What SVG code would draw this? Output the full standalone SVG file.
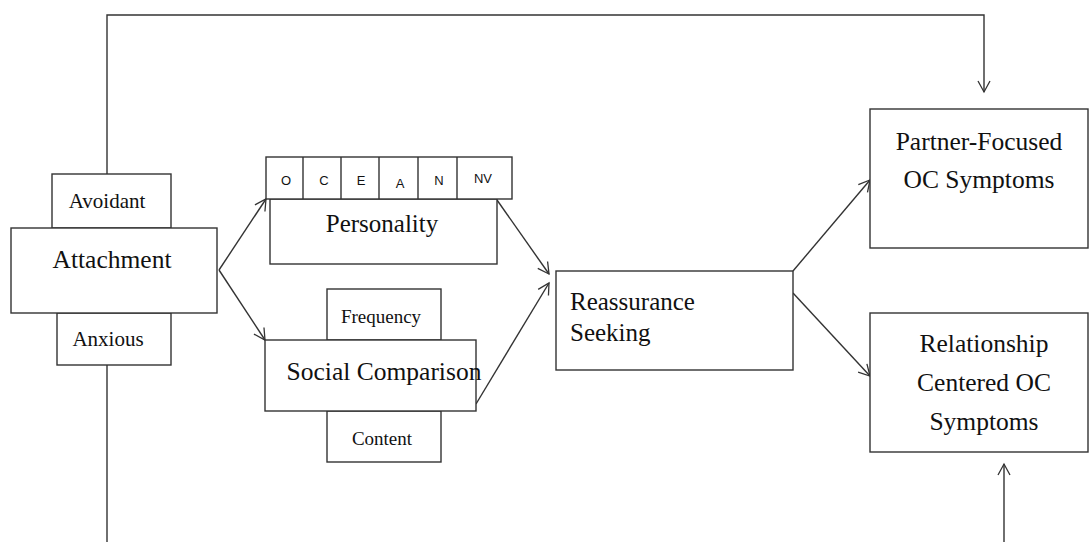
<svg xmlns="http://www.w3.org/2000/svg" width="1091" height="542" viewBox="0 0 1091 542">
<defs>
<marker id="ah" markerWidth="14" markerHeight="14" refX="12" refY="7" orient="auto" markerUnits="userSpaceOnUse">
<path d="M1,1 L12,7 L1,13" fill="none" stroke="#333" stroke-width="1.3"/>
</marker>
<style>
.box{fill:#fff;stroke:#333;stroke-width:1.4}
.ln{fill:none;stroke:#333;stroke-width:1.4}
.t{font-family:"Liberation Serif","Times New Roman",serif;fill:#111;text-anchor:middle}
.st{text-anchor:start}
.s{font-family:"Liberation Sans",Arial,sans-serif;fill:#111;text-anchor:middle;font-size:13px}
</style>
</defs>
<rect width="1091" height="542" fill="#fff"/>
<g id="connectors">
<polyline class="ln" points="107,174 107,15 984,15 984,92" marker-end="url(#ah)"/>
<polyline class="ln" points="107,365 107,542"/>
<line class="ln" x1="1004" y1="542" x2="1004" y2="464" marker-end="url(#ah)"/>
<line class="ln" x1="219" y1="270" x2="266" y2="199" marker-end="url(#ah)"/>
<line class="ln" x1="219" y1="270" x2="265" y2="340" marker-end="url(#ah)"/>
<line class="ln" x1="497" y1="200" x2="549" y2="274" marker-end="url(#ah)"/>
<line class="ln" x1="476" y1="404" x2="549" y2="283" marker-end="url(#ah)"/>
<line class="ln" x1="793" y1="271" x2="870" y2="180" marker-end="url(#ah)"/>
<line class="ln" x1="793" y1="293" x2="870" y2="376" marker-end="url(#ah)"/>
</g>
<g id="attachment">
<rect class="box" x="52" y="174" width="119" height="54"/>
<text class="t" x="107" y="208" font-size="21">Avoidant</text>
<rect class="box" x="57" y="313" width="114" height="52"/>
<text class="t" x="108" y="346" font-size="21">Anxious</text>
<rect class="box" x="11" y="228" width="206" height="85"/>
<text class="t" x="112" y="268" font-size="25.5">Attachment</text>
</g>
<g id="personality">
<rect class="box" x="270" y="199" width="227" height="65"/>
<text class="t" x="382" y="232" font-size="25">Personality</text>
<rect class="box" x="266" y="157" width="246" height="42"/>
<line class="ln" x1="303" y1="157" x2="303" y2="199"/>
<line class="ln" x1="341" y1="157" x2="341" y2="199"/>
<line class="ln" x1="379" y1="157" x2="379" y2="199"/>
<line class="ln" x1="418" y1="157" x2="418" y2="199"/>
<line class="ln" x1="457" y1="157" x2="457" y2="199"/>
<text class="s" x="286" y="185">O</text>
<text class="s" x="324" y="185">C</text>
<text class="s" x="361" y="185">E</text>
<text class="s" x="400" y="188">A</text>
<text class="s" x="439" y="185">N</text>
<text class="s" x="483" y="183" font-size="12">NV</text>
</g>
<g id="social">
<rect class="box" x="327" y="289" width="114" height="51"/>
<text class="t" x="381" y="323" font-size="19">Frequency</text>
<rect class="box" x="327" y="411" width="114" height="51"/>
<text class="t" x="382" y="445" font-size="19">Content</text>
<rect class="box" x="265" y="340" width="211" height="71"/>
<text class="t" x="384" y="380" font-size="25.5">Social Comparison</text>
</g>
<g id="reassurance">
<rect class="box" x="556" y="271" width="237" height="99"/>
<text class="t st" x="570" y="310" font-size="25">Reassurance</text>
<text class="t st" x="570" y="341" font-size="25">Seeking</text>
</g>
<g id="partner">
<rect class="box" x="870" y="109" width="218" height="139"/>
<text class="t" x="979" y="150" font-size="25.5">Partner-Focused</text>
<text class="t" x="979" y="188" font-size="25.5">OC Symptoms</text>
</g>
<g id="relationship">
<rect class="box" x="870" y="313" width="218" height="139"/>
<text class="t" x="984" y="352" font-size="25.5">Relationship</text>
<text class="t" x="984" y="391" font-size="25.5">Centered OC</text>
<text class="t" x="984" y="430" font-size="25.5">Symptoms</text>
</g>
</svg>
